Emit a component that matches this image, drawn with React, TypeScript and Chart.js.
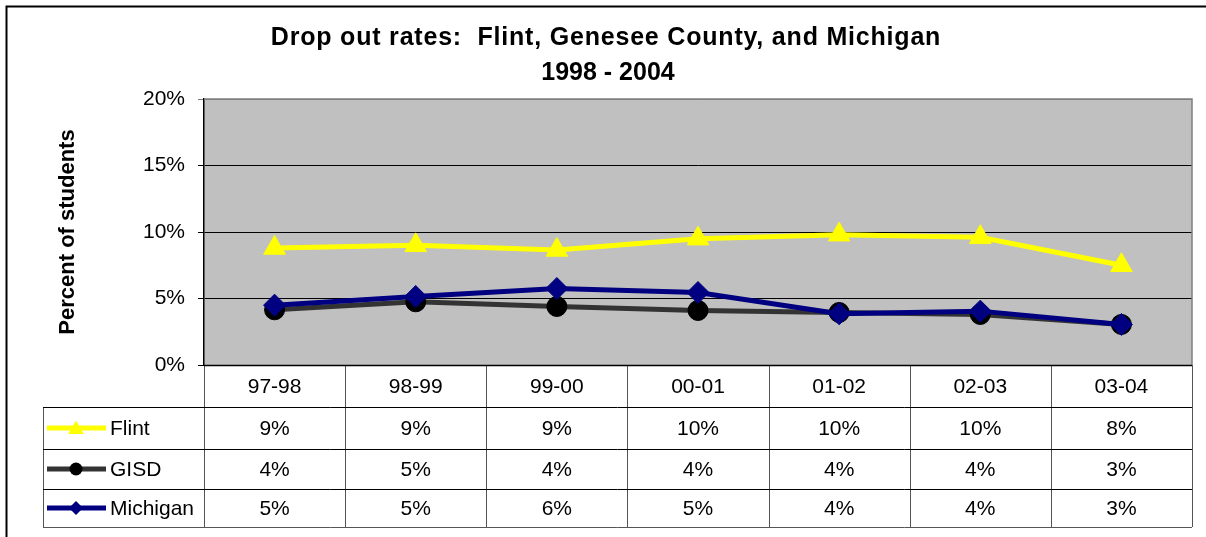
import React, { useEffect, useRef } from 'react';
import { Chart, registerables } from 'chart.js';

Chart.register(...registerables);

const titleLines = ['Drop out rates:  Flint, Genesee County, and Michigan', '1998 - 2004'];
const yAxisTitle = 'Percent of students';
const categories = ['97-98', '98-99', '99-00', '00-01', '01-02', '02-03', '03-04'];
const seriesNames = ['Flint', 'GISD', 'Michigan'];
const flintValues = [8.8, 9.0, 8.65, 9.5, 9.8, 9.6, 7.5];
const gisdValues = [4.15, 4.75, 4.4, 4.1, 3.95, 3.8, 3.05];
const michiganValues = [4.5, 5.15, 5.75, 5.45, 3.85, 4.05, 3.05];
const flintLabels = ['9%', '9%', '9%', '10%', '10%', '10%', '8%'];
const gisdLabels = ['4%', '5%', '4%', '4%', '4%', '4%', '3%'];
const michiganLabels = ['5%', '5%', '6%', '5%', '4%', '4%', '3%'];
const yTicks = [0, 5, 10, 15, 20];

const FONT = '"Liberation Sans", Arial, sans-serif';
const COLORS = ['#FFFF00', '#333333', '#000080'];
const MARKER_FILL = ['#FFFF00', '#000000', '#000080'];

function drawMarker(ctx: CanvasRenderingContext2D, kind: string, x: number, y: number, r: number, fill: string) {
  ctx.save();
  ctx.fillStyle = fill;
  ctx.beginPath();
  if (kind === 'triangle') {
    ctx.moveTo(x, y - r);
    ctx.lineTo(x + r * Math.sin(Math.PI * 2 / 3), y - r * Math.cos(Math.PI * 2 / 3));
    ctx.lineTo(x - r * Math.sin(Math.PI * 2 / 3), y - r * Math.cos(Math.PI * 2 / 3));
    ctx.closePath();
  } else if (kind === 'circle') {
    ctx.arc(x, y, r, 0, Math.PI * 2);
  } else {
    ctx.moveTo(x, y - r);
    ctx.lineTo(x + r, y);
    ctx.lineTo(x, y + r);
    ctx.lineTo(x - r, y);
    ctx.closePath();
  }
  ctx.fill();
  ctx.restore();
}

const decorPlugin = {
  id: 'decor',
  beforeDraw(chart: any) {
    const { ctx, chartArea: a } = chart;
    ctx.save();
    ctx.fillStyle = '#FFFFFF';
    ctx.fillRect(0, 0, chart.width, chart.height);
    ctx.fillStyle = '#C0C0C0';
    ctx.fillRect(a.left, a.top, a.right - a.left, a.bottom - a.top);
    ctx.restore();
  },
  afterDraw(chart: any) {
    const { ctx, chartArea: a } = chart;
    const xs = chart.scales.x;
    const n = categories.length;
    const colW = (a.right - a.left) / n;
    const rowLines = [a.bottom, a.bottom + 42, a.bottom + 84, a.bottom + 124, a.bottom + 162];
    const tableLeft = 43;
    ctx.save();

    // plot border (top/right gray)
    ctx.strokeStyle = '#808080';
    ctx.lineWidth = 1.5;
    ctx.beginPath();
    ctx.moveTo(a.left, a.top);
    ctx.lineTo(a.right, a.top);
    ctx.lineTo(a.right, a.bottom);
    ctx.stroke();

    // vertical table lines
    ctx.strokeStyle = '#555555';
    ctx.lineWidth = 1;
    for (let i = 0; i <= n; i++) {
      const x = Math.round(a.left + i * colW) + 0.5;
      ctx.beginPath();
      ctx.moveTo(x, rowLines[0]);
      ctx.lineTo(x, rowLines[4]);
      ctx.stroke();
    }
    ctx.beginPath();
    ctx.moveTo(tableLeft + 0.5, rowLines[1]);
    ctx.lineTo(tableLeft + 0.5, rowLines[4]);
    ctx.stroke();

    // horizontal table lines
    for (let r = 0; r < rowLines.length; r++) {
      const y = Math.round(rowLines[r]) + 0.5;
      ctx.strokeStyle = r === 4 ? '#555555' : '#000000';
      ctx.lineWidth = r === 0 ? 1.5 : 1;
      ctx.beginPath();
      ctx.moveTo(r === 0 ? a.left : tableLeft, y);
      ctx.lineTo(a.right, y);
      ctx.stroke();
    }

    // texts
    ctx.fillStyle = '#000000';
    ctx.font = `21px ${FONT}`;
    ctx.textAlign = 'center';
    ctx.textBaseline = 'middle';
    const rowCenter = (r: number) => (rowLines[r] + rowLines[r + 1]) / 2 + 1;
    categories.forEach((c, i) => {
      ctx.fillText(c, xs.getPixelForValue(i), rowCenter(0));
    });
    const labelRows = [flintLabels, gisdLabels, michiganLabels];
    labelRows.forEach((row, r) => {
      row.forEach((t, i) => {
        ctx.fillText(t, xs.getPixelForValue(i), rowCenter(r + 1));
      });
    });

    // legend keys
    const kinds = ['triangle', 'circle', 'diamond'];
    const sizes = [9, 6.5, 7];
    seriesNames.forEach((name, r) => {
      const y = rowCenter(r + 1) - 1;
      ctx.strokeStyle = COLORS[r];
      ctx.lineWidth = 5;
      ctx.beginPath();
      ctx.moveTo(47, y);
      ctx.lineTo(106, y);
      ctx.stroke();
      drawMarker(ctx, kinds[r], 76, y + (r === 0 ? 1.5 : 0), sizes[r], MARKER_FILL[r]);
      ctx.fillStyle = '#000000';
      ctx.textAlign = 'left';
      ctx.fillText(name, 110, y + 1);
    });

    // title
    ctx.font = `bold 25px ${FONT}`;
    ctx.textAlign = 'center';
    ctx.textBaseline = 'middle';
    (ctx as any).letterSpacing = '0.8px';
    ctx.fillText(titleLines[0], 606, 38);
    (ctx as any).letterSpacing = '0px';
    ctx.fillText(titleLines[1], 608, 73);

    // outer frame
    ctx.strokeStyle = '#000000';
    ctx.lineWidth = 2;
    ctx.strokeRect(6.5, 6.5, 1220, 600);
    ctx.restore();
  },
};

export default function App() {
  const ref = useRef<HTMLCanvasElement | null>(null);
  useEffect(() => {
    document.body.style.margin = '0';
    const canvas = ref.current;
    if (!canvas) return;
    const chart = new Chart(canvas, {
      type: 'line',
      data: {
        labels: categories,
        datasets: [
          {
            label: seriesNames[0],
            data: flintValues,
            borderColor: COLORS[0],
            backgroundColor: MARKER_FILL[0],
            pointBackgroundColor: MARKER_FILL[0],
            pointBorderColor: MARKER_FILL[0],
            pointStyle: 'triangle',
            pointRadius: 12.5,
            pointBorderWidth: 1,
            borderWidth: 5,
            tension: 0,
            order: 3,
          },
          {
            label: seriesNames[1],
            data: gisdValues,
            borderColor: COLORS[1],
            backgroundColor: MARKER_FILL[1],
            pointBackgroundColor: MARKER_FILL[1],
            pointBorderColor: MARKER_FILL[1],
            pointStyle: 'circle',
            pointRadius: 10,
            pointBorderWidth: 1,
            borderWidth: 5,
            tension: 0,
            order: 2,
          },
          {
            label: seriesNames[2],
            data: michiganValues,
            borderColor: COLORS[2],
            backgroundColor: MARKER_FILL[2],
            pointBackgroundColor: MARKER_FILL[2],
            pointBorderColor: MARKER_FILL[2],
            pointStyle: 'rectRot',
            pointRadius: 11,
            pointBorderWidth: 1,
            borderWidth: 5,
            tension: 0,
            order: 1,
          },
        ],
      },
      options: {
        responsive: false,
        animation: false,
        layout: { padding: { top: 99, right: 14, bottom: 172, left: 0 } },
        plugins: {
          legend: { display: false },
          tooltip: { enabled: false },
          title: { display: false },
        },
        scales: {
          x: {
            type: 'category',
            display: false,
            offset: true,
          },
          y: {
            min: 0,
            max: 20,
            afterBuildTicks: (scale: any) => {
              scale.ticks = yTicks.map((v) => ({ value: v }));
            },
            afterFit: (scale: any) => {
              scale.width = 204;
            },
            ticks: {
              padding: 13,
              color: '#000000',
              font: { family: FONT, size: 21 },
              callback: (v: any) => `${v}%`,
            },
            grid: {
              color: (c: any) => (c.tick && c.tick.value === 20 ? '#808080' : '#000000'),
              lineWidth: 1,
              tickLength: 6,
              drawTicks: true,
            },
            border: { display: true, color: '#000000', width: 1.5 },
            title: {
              display: true,
              text: yAxisTitle,
              color: '#000000',
              font: { family: FONT, size: 22, weight: 'bold' },
              padding: { top: 55, bottom: 0 },
            },
          },
        },
      },
      plugins: [decorPlugin],
    } as any);
    return () => chart.destroy();
  }, []);
  return <canvas ref={ref} width={1206} height={537} style={{ display: 'block' }} />;
}
